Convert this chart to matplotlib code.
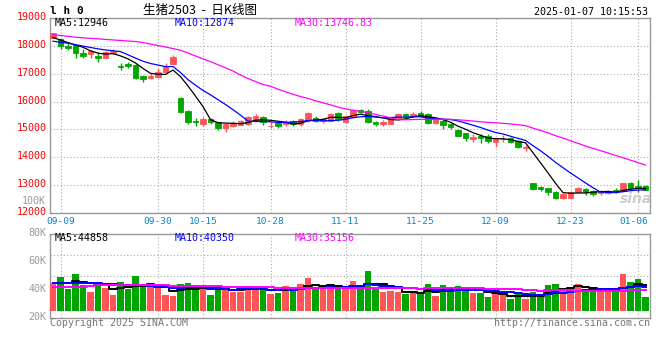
import numpy as np
import pandas as pd
import matplotlib
matplotlib.use("Agg")
import matplotlib.pyplot as plt
import matplotlib.transforms as mtransforms

# daily K data, 09-06 .. 01-07
opens = [18302, 18253, 18001, 18037, 17760, 17702, 17652, 17580, 17738, 17270,
         17342, 17317, 16932, 16860, 16896, 17076, 17342, 16118, 15661, 15301,
         15193, 15390, 15276, 15060, 15132, 15157, 15182, 15337, 15456, 15110,
         15218, 15182, 15301, 15182, 15337, 15420, 15301, 15301, 15578, 15276,
         15456, 15697, 15661, 15276, 15193, 15193, 15398, 15553, 15481, 15600,
         15553, 15218, 15312, 15193, 14977, 14857, 14642, 14761, 14761, 14556,
         14640, 14678, 14581, 14330, 13058, 12937, 12877, 12734, 12518, 12540,
         12756, 12853, 12781, 12698, 12698, 12817, 12792, 13058, 12960, 12960]
highs = [18470, 18278, 18098, 18073, 17893, 17857, 17774, 17821, 17893, 17378,
         17436, 17353, 16957, 17018, 17220, 17378, 17677, 16176, 15697, 15398,
         15456, 15420, 15276, 15218, 15301, 15337, 15492, 15542, 15492, 15276,
         15276, 15337, 15337, 15420, 15614, 15492, 15420, 15578, 15614, 15517,
         15733, 15733, 15722, 15312, 15337, 15456, 15578, 15600, 15625, 15661,
         15600, 15398, 15362, 15240, 15002, 14880, 14833, 14833, 14833, 14678,
         14797, 14736, 14600, 14437, 13080, 12972, 12900, 12781, 12698, 12781,
         12937, 12900, 12817, 12817, 12817, 12900, 13080, 13116, 13177, 12997]
lows = [18302, 17893, 17857, 17558, 17558, 17580, 17414, 17558, 17702, 17137,
        17198, 16813, 16716, 16802, 16838, 17050, 17342, 15578, 15182, 15132,
        15132, 15180, 14977, 14916, 15096, 15157, 15157, 15337, 15157, 15038,
        15038, 15132, 15132, 15132, 15276, 15254, 15218, 15301, 15301, 15240,
        15456, 15600, 15240, 15121, 15121, 15193, 15373, 15434, 15434, 15434,
        15193, 15193, 15002, 15002, 14761, 14592, 14556, 14520, 14520, 14376,
        14556, 14498, 14318, 14221, 12817, 12781, 12637, 12493, 12493, 12518,
        12734, 12637, 12613, 12637, 12662, 12720, 12781, 12817, 12756, 12817]
closes = [18460, 18012, 17940, 17738, 17641, 17821, 17580, 17774, 17821, 17240,
          17281, 16838, 16802, 16932, 17076, 17256, 17616, 15614, 15254, 15254,
          15373, 15260, 15060, 15182, 15218, 15301, 15456, 15492, 15254, 15135,
          15132, 15276, 15182, 15373, 15578, 15301, 15373, 15542, 15373, 15492,
          15697, 15636, 15276, 15193, 15276, 15398, 15553, 15481, 15553, 15481,
          15218, 15362, 15157, 15074, 14761, 14678, 14737, 14678, 14592, 14642,
          14665, 14556, 14376, 14350, 12853, 12853, 12734, 12518, 12662, 12734,
          12900, 12734, 12662, 12756, 12781, 12756, 13058, 12878, 12900, 12817]
volumes = [44800, 49500, 40700, 51400, 43600, 38800, 44800, 41600, 36400, 45900,
           40700, 50200, 42400, 42400, 41200, 36400, 35700, 44300, 45000, 41200,
           40700, 36400, 42900, 41900, 38800, 38800, 42900, 40000, 42900, 37100,
           38100, 42900, 40500, 44300, 48600, 40500, 40500, 44300, 40500, 40500,
           46400, 41200, 53800, 40500, 38800, 39300, 38800, 37100, 37600, 37600,
           44300, 35900, 43600, 41200, 42900, 39500, 37900, 37900, 35000, 37600,
           36200, 33600, 37100, 33600, 38600, 37100, 43600, 44300, 40700, 41200,
           44300, 40700, 40000, 38600, 38600, 38600, 51400, 45700, 47900, 35000]

# MA values at the left edge (earlier days are off the chart)
ma5_head = [18307, 18217, 18127, 18037]
ma10_head = [18174, 18140, 18100, 18050, 18000, 17950, 17900, 17860, 17830]
ma30_head = [18412, 18383, 18350, 18318, 18296, 18278, 18260, 18239, 18221, 18203,
             18181, 18163, 18127, 18073, 18019, 17965, 17911, 17850, 17749, 17641,
             17540, 17440, 17328, 17216, 17101, 16957, 16831, 16723, 16615]
vma5_head = [44800, 45400, 45100, 46300]
vma10_head = [45000, 45100, 45200, 45300, 45200, 45000, 44800, 44500, 44100]
vma30_head = [42400, 42400, 42400, 42400, 42400, 43200, 43300, 43400, 43500, 43500,
              43500, 43500, 43400, 43400, 43300, 43300, 43200, 43100, 43000, 42900,
              42800, 42700, 42600, 42500, 42400, 42300, 42200, 42100, 42000]

tick_idx = [1, 14, 20, 29, 39, 49, 59, 69, 78]
tick_labels = ["09-09", "09-30", "10-15", "10-28", "11-11", "11-25", "12-09", "12-23", "01-06"]
price_ticks = [12000, 13000, 14000, 15000, 16000, 17000, 18000, 19000]
vol_ticks = [20000, 40000, 60000, 80000]
vol_tick_labels = ["20K", "40K", "60K", "80K"]


def moving_avg(values, n, head):
    s = pd.Series(values, dtype=float).rolling(n).mean()
    s.iloc[:len(head)] = head
    return s.to_numpy()


UP = "#ff5555"
DOWN = "#00a600"
GRID = "#aaaaaa"
BORDER = "#999999"
MONO = "DejaVu Sans Mono"
plt.rcParams["font.family"] = [MONO]

fig = plt.figure(figsize=(6.6, 3.6), dpi=100)
ax = fig.add_axes([50 / 660, 147.3 / 360, 600 / 660, 194.4 / 360])
axv = fig.add_axes([50 / 660, 42 / 360, 600 / 660, 83.7 / 360])

x = np.arange(len(closes))
o = np.array(opens, dtype=float)
c = np.array(closes, dtype=float)
colors = [UP if cc >= oo else DOWN for oo, cc in zip(o, c)]

# candles
ax.vlines(x, lows, highs, colors=colors, lw=1, zorder=3)
ax.bar(x, np.abs(c - o), bottom=np.minimum(o, c), width=0.72, color=colors,
       edgecolor=colors, lw=0.6, zorder=3)
ax.plot(x, moving_avg(closes, 5, ma5_head), color="black", lw=0.9, zorder=4)
ax.plot(x, moving_avg(closes, 10, ma10_head), color="#0000ff", lw=0.9, zorder=4)
ax.plot(x, moving_avg(closes, 30, ma30_head), color="#ff00ff", lw=0.9, zorder=4)

ax.set_xlim(-0.4, 79.6)
ax.set_ylim(12000, 19000)
ax.set_yticks(price_ticks)
ax.set_xticks(tick_idx)
ax.set_xticklabels(tick_labels)
ax.tick_params(axis="y", length=0, pad=2.5, labelsize=7.2, labelcolor="#ff0000")
ax.tick_params(axis="x", length=0, pad=3, labelsize=6.8, labelcolor="#0a84c8")
ax.grid(True, color=GRID, ls=(0, (1, 2)), lw=0.8)

# volume
base = 25000
axv.bar(x, np.array(volumes) - base, bottom=base, width=0.84, color=colors, lw=0, zorder=3)
axv.plot(x, moving_avg(volumes, 5, vma5_head), color="black", lw=1.4, drawstyle="steps-mid", zorder=4)
axv.plot(x, moving_avg(volumes, 10, vma10_head), color="#0000ff", lw=1.4, drawstyle="steps-mid", zorder=4)
axv.plot(x, moving_avg(volumes, 30, vma30_head), color="#ff00ff", lw=1.4, drawstyle="steps-mid", zorder=4)
axv.set_xlim(-0.4, 79.6)
axv.set_ylim(20000, 80000)
axv.set_yticks(vol_ticks)
axv.set_yticklabels(vol_tick_labels)
axv.set_xticks(tick_idx)
axv.set_xticklabels([])
axv.tick_params(axis="y", length=0, pad=2.5, labelsize=7.2, labelcolor="#999999")
axv.tick_params(axis="x", length=0)
axv.grid(True, axis="x", color=GRID, ls=(0, (1, 2)), lw=0.8)
for f in (0.25, 0.5, 0.75):
    axv.plot([0, 1], [f, f], transform=axv.transAxes, color=GRID, ls=(0, (1, 2)), lw=0.8, zorder=1)

for a in (ax, axv):
    a.set_axisbelow(True)
    for s in a.spines.values():
        s.set_color(BORDER)
        s.set_linewidth(1)

# small label nudges
up2 = mtransforms.ScaledTranslation(0, 0.02, fig.dpi_scale_trans)
for lbl in ax.get_yticklabels() + axv.get_yticklabels():
    lbl.set_transform(lbl.get_transform() + up2)
last = ax.get_xticklabels()[-1]
last.set_transform(last.get_transform() + mtransforms.ScaledTranslation(-0.04, 0, fig.dpi_scale_trans))

# MA legends
ax.text(0.008, 0.974, "MA5:12946", transform=ax.transAxes, color="black", fontsize=7.2, va="center")
ax.text(0.207, 0.974, "MA10:12874", transform=ax.transAxes, color="#0000ff", fontsize=7.2, va="center")
ax.text(0.408, 0.974, "MA30:13746.83", transform=ax.transAxes, color="#ff00ff", fontsize=7.2, va="center")
axv.text(0.008, 0.95, "MA5:44858", transform=axv.transAxes, color="black", fontsize=7.2, va="center")
axv.text(0.207, 0.95, "MA10:40350", transform=axv.transAxes, color="#0000ff", fontsize=7.2, va="center")
axv.text(0.408, 0.95, "MA30:35156", transform=axv.transAxes, color="#ff00ff", fontsize=7.2, va="center")

# header / footer
fig.text(50 / 660, 1 - 11 / 360, "l h 0", fontsize=8, fontweight="bold", va="center")
fig.text(200 / 660, 1 - 10 / 360, "生猪2503  -  日K线图", fontsize=9, ha="center", va="center",
         family=["Noto Sans CJK SC", "DejaVu Sans"])
fig.text(648 / 660, 1 - 12 / 360, "2025-01-07 10:15:53", fontsize=7.2, ha="right", va="center")
fig.text(46 / 660, 1 - 201 / 360, "100K", fontsize=7.2, ha="right", va="center", color="#999999")
fig.text(50 / 660, 1 - 323.5 / 360, "Copyright 2025 SINA.COM", fontsize=7.2, va="center", color="#777777")
fig.text(650 / 660, 1 - 323.5 / 360, "http://finance.sina.com.cn", fontsize=7.2, ha="right",
         va="center", color="#777777")
fig.text(636 / 660, 1 - 199 / 360, "sina", fontsize=10, style="italic", fontweight="bold",
         ha="center", va="center", color="#cccccc", family="DejaVu Sans")

fig.savefig("out.png", dpi=100)
